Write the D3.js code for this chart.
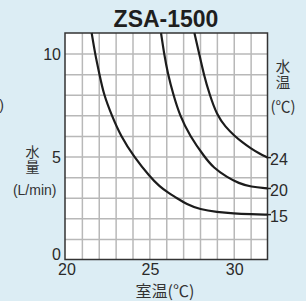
<!DOCTYPE html>
<html>
<head>
<meta charset="utf-8">
<script src="https://d3js.org/d3.v7.min.js"></script>
<style>
  body { margin: 0; background: #dcedf4; }
  svg text { font-family: "Liberation Sans", Arial, "Noto Sans CJK JP", sans-serif; fill: #2a2a2a; }
  .cjk { font-family: "Noto Sans CJK JP", sans-serif; }
  .grid line { stroke: #b8b8b8; stroke-width: 1.5; }
  .grid .domain { display: none; }
</style>
</head>
<body>
<svg></svg>
<script>
// data: room temp (°C) vs water flow (L/min), one curve per water temp
var title = "ZSA-1500";
var waterTemps = ["24", "20", "15"];
var curve24 = [[27.67,11],[27.95,10],[28.22,9],[28.57,8],[29.01,7],[29.5,6.45],[30.05,6],[30.5,5.7],[31,5.4],[31.5,5.15],[32,4.95]];
var curve20 = [[25.69,11],[25.87,10],[26.1,9],[26.42,8],[26.8,7],[27.4,6],[28.25,5],[28.8,4.45],[29.6,4],[30.3,3.7],[31,3.53],[32,3.45]];
var curve15 = [[21.58,11],[21.78,10],[22.04,9],[22.3,8],[22.77,7],[23.3,6],[24.08,5],[25.05,4],[25.6,3.55],[26.1,3.25],[26.6,3.0],[27.2,2.68],[28,2.43],[29,2.3],[30,2.23],[31,2.2],[32,2.18]];
var xTicks = [20, 25, 30];
var yTicks = [0, 5, 10];

var width = 306, height = 301;
var svg = d3.select("svg").attr("width", width).attr("height", height);

var x = d3.scaleLinear().domain([20, 32]).range([65, 267.5]),
    y = d3.scaleLinear().domain([0, 11]).range([259.5, 33]);

svg.append("rect").attr("width", width).attr("height", height).attr("fill", "#dcedf4");

//plot area
svg.append("rect")
  .attr("x", x(20)).attr("y", y(11))
  .attr("width", x(32) - x(20)).attr("height", y(0) - y(11))
  .attr("fill", "#fff");

//grid
svg.append("g").attr("class", "grid")
  .attr("transform", "translate(0," + y(0) + ")")
  .call(d3.axisBottom(x).tickValues(d3.range(21, 32)).tickSize(-(y(0) - y(11))).tickFormat(""));
svg.append("g").attr("class", "grid")
  .attr("transform", "translate(" + x(20) + ",0)")
  .call(d3.axisLeft(y).tickValues(d3.range(1, 11)).tickSize(-(x(32) - x(20))).tickFormat(""));

//frame
svg.append("rect")
  .attr("x", x(20)).attr("y", y(11))
  .attr("width", x(32) - x(20)).attr("height", y(0) - y(11))
  .attr("fill", "none").attr("stroke", "#333").attr("stroke-width", 1.5);

//curves
var line = d3.line().x(function(d) { return x(d[0]); }).y(function(d) { return y(d[1]); })
  .curve(d3.curveBasis);
var curves = [curve24, curve20, curve15];
svg.append("g").selectAll("path").data(curves)
  .enter().append("path").attr("d", line)
  .attr("fill", "none").attr("stroke", "#1c1c1c").attr("stroke-width", 2.2);

//little leaders + labels at curve ends
curves.forEach(function(c, i) {
  var last = c[c.length - 1];
  svg.append("line")
    .attr("x1", x(32)).attr("x2", x(32) + 3.5)
    .attr("y1", y(last[1])).attr("y2", y(last[1]))
    .attr("stroke", "#1c1c1c").attr("stroke-width", 1.5);
  svg.append("text")
    .attr("x", x(32) + 2.5).attr("y", y(last[1]) + 1.5)
    .attr("dy", "0.35em").attr("font-size", 16)
    .text(waterTemps[i]);
});

//axis labels
var ya = svg.append("g").attr("transform", "translate(" + x(20) + ",0)")
  .call(d3.axisLeft(y).tickValues(yTicks).tickSize(0).tickPadding(4));
ya.select(".domain").remove();
ya.selectAll("text").attr("font-size", 16).style("fill", "#2a2a2a")
  .attr("dy", function(d) { return d === 0 ? "0em" : "0.36em"; });

var xa = svg.append("g").attr("transform", "translate(0," + y(0) + ")")
  .call(d3.axisBottom(x).tickValues(xTicks).tickSize(0).tickPadding(4));
xa.select(".domain").remove();
xa.selectAll("text").attr("font-size", 16).style("fill", "#2a2a2a")
  .attr("dx", function(d) { return d === 20 ? 1.5 : 0.5; });

//title
svg.append("text").attr("x", 166).attr("y", 27)
  .attr("text-anchor", "middle").attr("font-size", 23).attr("font-weight", "bold")
  .style("fill", "#1e1e1e").text(title);

//x title
svg.append("text").attr("class", "cjk").attr("x", 165).attr("y", 297)
  .attr("text-anchor", "middle").attr("font-size", 16).style("fill", "#333").text("室温(℃)");

//y title (stacked chars)
var yt = svg.append("text").attr("class", "cjk").attr("text-anchor", "middle")
  .attr("font-size", 14).style("fill", "#333");
yt.append("tspan").attr("x", 32.5).attr("y", 156.5).text("水");
yt.append("tspan").attr("x", 32.5).attr("y", 172).text("量");
svg.append("text").attr("x", 34.7).attr("y", 195)
  .attr("text-anchor", "middle").attr("font-size", 14).style("fill", "#333").text("(L/min)");

//water temp title (right)
var wt = svg.append("text").attr("class", "cjk").attr("text-anchor", "middle")
  .attr("font-size", 14.5).style("fill", "#333");
wt.append("tspan").attr("x", 283).attr("y", 71.5).text("水");
wt.append("tspan").attr("x", 283).attr("y", 88).text("温");
svg.append("text").attr("class", "cjk").attr("x", 283).attr("y", 112)
  .attr("text-anchor", "middle").attr("font-size", 15).style("fill", "#333").text("(℃)");

//clipped leftover from neighbouring chart
svg.append("text").attr("x", 4).attr("y", 110)
  .attr("text-anchor", "end").attr("font-size", 14).style("fill", "#333").text(")");
</script>
</body>
</html>
